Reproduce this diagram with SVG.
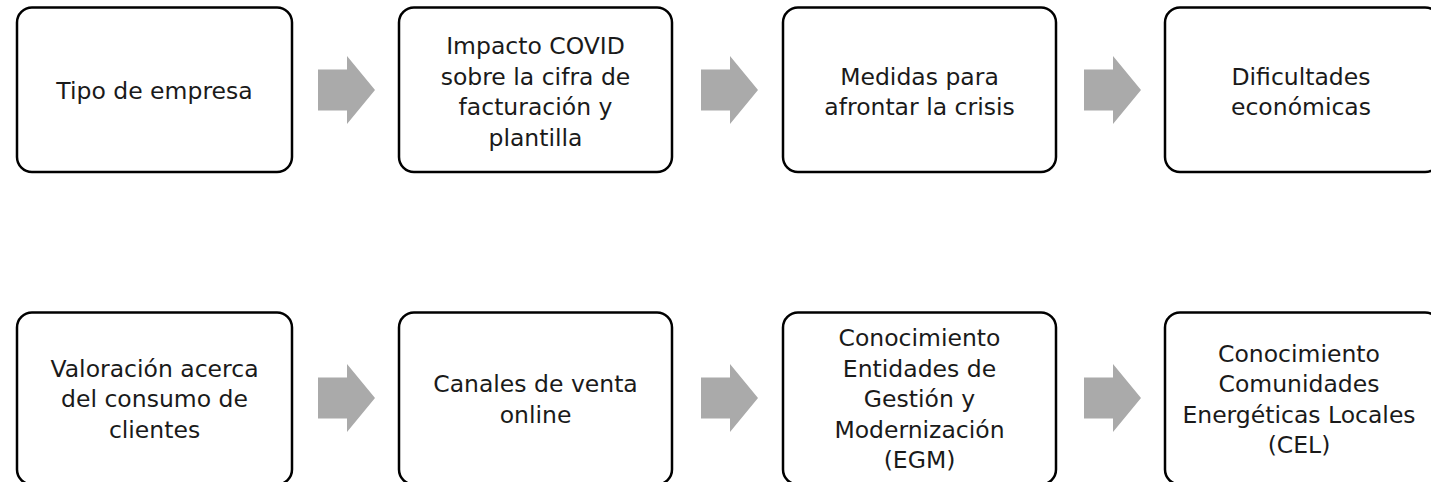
<svg xmlns="http://www.w3.org/2000/svg" width="1431" height="482" viewBox="0 0 1431 482">
<style>
.box{fill:#ffffff;stroke:#000000;stroke-width:2.5}
.lbl{font-family:"DejaVu Sans","Open Sans",sans-serif;font-size:23.5px;fill:#1a1a1a;text-anchor:middle}
.arr{fill:#aaaaaa}
</style>
<defs>
<path id="arrow" d="M0,-20.5 H29 V-34 L57,0 L29,34 V20.5 H0 Z"/>
</defs>
<rect width="1431" height="482" fill="#ffffff"/>
<g id="connectors">
<use href="#arrow" class="arr" x="318" y="90"/>
<use href="#arrow" class="arr" x="701" y="90"/>
<use href="#arrow" class="arr" x="1084" y="90"/>
<use href="#arrow" class="arr" x="318" y="398"/>
<use href="#arrow" class="arr" x="701" y="398"/>
<use href="#arrow" class="arr" x="1084" y="398"/>
</g>
<g id="n1">
<rect class="box" x="17" y="7.5" width="275" height="164.5" rx="15"/>
<text class="lbl" x="154.5" y="99">Tipo de empresa</text>
</g>
<g id="n2">
<rect class="box" x="399" y="7.5" width="273" height="164.5" rx="15"/>
<text class="lbl"><tspan x="535.5" y="54">Impacto COVID</tspan><tspan x="535.5" y="84.5">sobre la cifra de</tspan><tspan x="535.5" y="115">facturación y</tspan><tspan x="535.5" y="145.5">plantilla</tspan></text>
</g>
<g id="n3">
<rect class="box" x="783" y="7.5" width="273" height="164.5" rx="15"/>
<text class="lbl"><tspan x="919.5" y="84.5">Medidas para</tspan><tspan x="919.5" y="115">afrontar la crisis</tspan></text>
</g>
<g id="n4">
<rect class="box" x="1165" y="7.5" width="275" height="164.5" rx="15"/>
<text class="lbl"><tspan x="1301" y="84.5">Dificultades</tspan><tspan x="1301" y="115">económicas</tspan></text>
</g>
<g id="n5">
<rect class="box" x="17" y="312.5" width="275" height="172" rx="15"/>
<text class="lbl"><tspan x="154.5" y="376.5">Valoración acerca</tspan><tspan x="154.5" y="407">del consumo de</tspan><tspan x="154.5" y="437.5">clientes</tspan></text>
</g>
<g id="n6">
<rect class="box" x="399" y="312.5" width="273" height="172" rx="15"/>
<text class="lbl"><tspan x="535.5" y="392">Canales de venta</tspan><tspan x="535.5" y="422.5">online</tspan></text>
</g>
<g id="n7">
<rect class="box" x="783" y="312.5" width="273" height="172" rx="15"/>
<text class="lbl"><tspan x="919.5" y="346">Conocimiento</tspan><tspan x="919.5" y="376.5">Entidades de</tspan><tspan x="919.5" y="407">Gestión y</tspan><tspan x="919.5" y="437.5">Modernización</tspan><tspan x="919.5" y="468">(EGM)</tspan></text>
</g>
<g id="n8">
<rect class="box" x="1165" y="312.5" width="275" height="172" rx="15"/>
<text class="lbl"><tspan x="1299" y="361.5">Conocimiento</tspan><tspan x="1299" y="392">Comunidades</tspan><tspan x="1299" y="422.5">Energéticas Locales</tspan><tspan x="1299" y="453">(CEL)</tspan></text>
</g>
</svg>
